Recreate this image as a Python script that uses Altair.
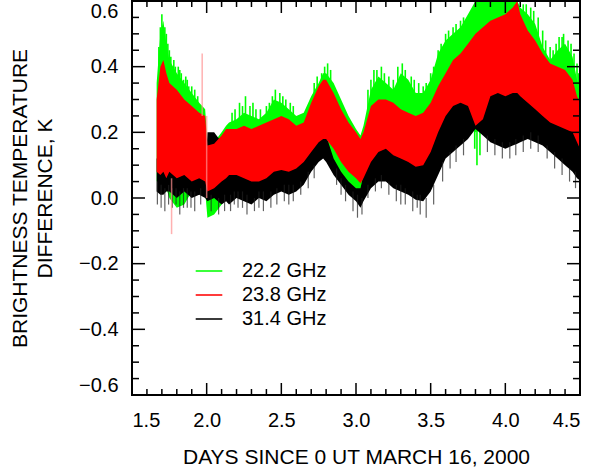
import altair as alt
import pandas as pd

SERIES = ["22.2 GHz", "23.8 GHz", "31.4 GHz"]
COLORS = ["#00ff00", "#ff0000", "#000000"]

# days since 0 UT March 16, 2000 (shared sample positions)
X = [1.665, 1.69, 1.71, 1.73, 1.75, 1.80, 1.85, 1.90, 1.95, 1.99,
     2.005, 2.05, 2.10, 2.13, 2.15, 2.20, 2.25, 2.30, 2.35, 2.40,
     2.45, 2.50, 2.55, 2.60, 2.65, 2.70, 2.75, 2.78, 2.80, 2.85,
     2.90, 2.95, 3.00, 3.03, 3.05, 3.10, 3.15, 3.20, 3.25, 3.30,
     3.35, 3.40, 3.45, 3.50, 3.55, 3.60, 3.65, 3.70, 3.75, 3.80,
     3.85, 3.90, 3.95, 4.00, 4.05, 4.08, 4.10, 4.15, 4.20, 4.25,
     4.30, 4.35, 4.40, 4.45, 4.48, 4.51]

# 22.2 GHz band: upper / lower envelope (K)
G_HI = [0.35, 0.50, 0.54, 0.47, 0.42, 0.38, 0.35, 0.32, 0.29, 0.27,
        0.17, 0.17, 0.20, 0.22, 0.23, 0.24, 0.26, 0.25, 0.24, 0.26,
        0.30, 0.29, 0.27, 0.25, 0.26, 0.31, 0.35, 0.38, 0.38, 0.35,
        0.30, 0.25, 0.21, 0.19, 0.22, 0.33, 0.37, 0.35, 0.33, 0.38,
        0.36, 0.32, 0.32, 0.36, 0.44, 0.48, 0.50, 0.52, 0.56, 0.60,
        0.60, 0.60, 0.60, 0.60, 0.60, 0.60, 0.58, 0.56, 0.53, 0.46,
        0.42, 0.45, 0.47, 0.43, 0.36, 0.30]
G_LO = [0.05, 0.06, 0.05, 0.03, 0.00, -0.03, -0.02, 0.02, 0.03, 0.02,
        -0.06, -0.05, -0.02, 0.00, 0.02, 0.02, 0.01, 0.00, 0.01, 0.02,
        0.03, 0.04, 0.04, 0.05, 0.07, 0.10, 0.13, 0.13, 0.13, 0.10,
        0.06, 0.03, 0.00, -0.02, 0.00, 0.05, 0.08, 0.08, 0.07, 0.06,
        0.05, 0.04, 0.05, 0.08, 0.12, 0.17, 0.20, 0.22, 0.22, 0.20,
        0.21, 0.22, 0.24, 0.24, 0.25, 0.26, 0.26, 0.25, 0.23, 0.20,
        0.18, 0.17, 0.16, 0.15, 0.14, 0.12]

# 23.8 GHz band
R_HI = [0.30, 0.40, 0.42, 0.38, 0.35, 0.33, 0.30, 0.28, 0.26, 0.25,
        0.16, 0.165, 0.19, 0.21, 0.21, 0.21, 0.22, 0.21, 0.22, 0.23,
        0.24, 0.25, 0.24, 0.22, 0.23, 0.29, 0.34, 0.36, 0.36, 0.32,
        0.27, 0.23, 0.20, 0.18, 0.20, 0.28, 0.30, 0.30, 0.29, 0.27,
        0.26, 0.25, 0.26, 0.29, 0.34, 0.38, 0.42, 0.44, 0.47, 0.50,
        0.52, 0.54, 0.55, 0.56, 0.58, 0.60, 0.56, 0.51, 0.48, 0.44,
        0.41, 0.40, 0.39, 0.36, 0.31, 0.28]
R_LO = [0.08, 0.07, 0.08, 0.06, 0.08, 0.06, 0.07, 0.05, 0.06, 0.05,
        0.02, 0.03, 0.05, 0.06, 0.07, 0.07, 0.06, 0.05, 0.05, 0.06,
        0.08, 0.085, 0.08, 0.09, 0.11, 0.14, 0.17, 0.18, 0.18, 0.15,
        0.11, 0.08, 0.06, 0.045, 0.06, 0.11, 0.14, 0.15, 0.13, 0.12,
        0.11, 0.095, 0.10, 0.14, 0.20, 0.25, 0.28, 0.29, 0.28, 0.22,
        0.24, 0.31, 0.32, 0.31, 0.32, 0.32, 0.31, 0.29, 0.27, 0.25,
        0.23, 0.22, 0.21, 0.20, 0.17, 0.14]

# 31.4 GHz band
B_HI = [0.12, 0.12, 0.12, 0.11, 0.11, 0.10, 0.10, 0.09, 0.08, 0.07,
        0.20, 0.20, 0.17, 0.10, 0.09, 0.10, 0.09, 0.08, 0.08, 0.09,
        0.10, 0.11, 0.10, 0.11, 0.13, 0.16, 0.19, 0.20, 0.19, 0.12,
        0.08, 0.05, 0.03, 0.03, 0.07, 0.13, 0.16, 0.17, 0.15, 0.14,
        0.13, 0.12, 0.12, 0.16, 0.22, 0.27, 0.30, 0.31, 0.30, 0.29,
        0.28, 0.33, 0.34, 0.33, 0.34, 0.34, 0.34, 0.33, 0.30, 0.27,
        0.25, 0.24, 0.23, 0.22, 0.19, 0.16]
B_LO = [0.02, 0.01, 0.01, 0.02, 0.02, 0.00, 0.02, 0.00, 0.01, 0.00,
        -0.01, 0.00, -0.02, -0.01, -0.02, 0.00, -0.01, -0.02, 0.00, -0.01,
        0.01, 0.02, 0.01, 0.02, 0.04, 0.08, 0.11, 0.12, 0.11, 0.07,
        0.04, 0.01, -0.01, -0.03, -0.01, 0.03, 0.05, 0.05, 0.03, 0.02,
        0.01, -0.005, -0.01, 0.02, 0.07, 0.12, 0.14, 0.16, 0.18, 0.21,
        0.19, 0.17, 0.16, 0.15, 0.16, 0.165, 0.17, 0.18, 0.17, 0.16,
        0.14, 0.12, 0.10, 0.08, 0.06, 0.05]

# noise spikes read along the 22.2 GHz edges: x, top, bottom
G_SPK_X = [1.68, 1.69, 1.70, 1.72, 1.73, 1.74, 1.75, 1.76, 1.78, 1.79,
           1.81, 1.82, 1.83, 1.845, 1.86, 1.87, 1.88, 1.90, 1.92, 1.94,
           2.17, 2.19, 2.22, 2.24, 2.26, 2.29, 2.31, 2.33, 2.36, 2.40,
           2.42, 2.44, 2.46, 2.49, 2.51, 2.53, 2.56, 2.58, 2.72, 2.74,
           2.77, 2.79, 2.81, 2.83, 3.08, 3.10, 3.12, 3.14, 3.17, 3.19,
           3.22, 3.25, 3.28, 3.31, 3.33, 3.37, 3.39, 3.42, 3.45, 3.47,
           3.50, 3.52, 3.55, 3.57, 3.60, 3.62, 3.65, 3.67, 3.70, 3.72,
           4.12, 4.14, 4.17, 4.19, 4.22, 4.25, 4.27, 4.30, 4.32, 4.34,
           4.36, 4.38, 4.39, 4.42, 4.44, 4.46, 4.48, 4.49, 3.795, 3.81,
           3.83]
G_SPK_T = [0.46, 0.52, 0.56, 0.52, 0.50, 0.47, 0.45, 0.43, 0.42, 0.40,
           0.40, 0.39, 0.38, 0.36, 0.37, 0.36, 0.34, 0.34, 0.33, 0.31,
           0.26, 0.27, 0.29, 0.28, 0.31, 0.28, 0.29, 0.27, 0.27, 0.28,
           0.29, 0.31, 0.33, 0.32, 0.31, 0.30, 0.29, 0.28, 0.35, 0.37,
           0.38, 0.40, 0.41, 0.39, 0.33, 0.36, 0.39, 0.39, 0.40, 0.38,
           0.37, 0.36, 0.40, 0.41, 0.39, 0.37, 0.36, 0.35, 0.34, 0.35,
           0.38, 0.40, 0.45, 0.47, 0.50, 0.51, 0.52, 0.53, 0.54, 0.55,
           0.59, 0.59, 0.58, 0.57, 0.55, 0.51, 0.48, 0.46, 0.45, 0.47,
           0.49, 0.49, 0.50, 0.48, 0.47, 0.44, 0.41, 0.38, 0.22, 0.22,
           0.22]
G_SPK_B = [0.38, 0.44, 0.45, 0.44, 0.43, 0.40, 0.38, 0.36, 0.36, 0.35,
           0.34, 0.33, 0.32, 0.31, 0.32, 0.31, 0.29, 0.29, 0.28, 0.27,
           0.21, 0.22, 0.22, 0.23, 0.24, 0.22, 0.23, 0.22, 0.22, 0.23,
           0.24, 0.26, 0.27, 0.26, 0.26, 0.25, 0.24, 0.23, 0.30, 0.32,
           0.33, 0.35, 0.36, 0.34, 0.27, 0.29, 0.31, 0.32, 0.33, 0.32,
           0.31, 0.30, 0.33, 0.35, 0.33, 0.31, 0.30, 0.30, 0.29, 0.30,
           0.32, 0.34, 0.38, 0.41, 0.43, 0.45, 0.46, 0.47, 0.48, 0.50,
           0.54, 0.53, 0.52, 0.51, 0.49, 0.45, 0.42, 0.40, 0.40, 0.41,
           0.42, 0.43, 0.44, 0.42, 0.40, 0.37, 0.34, 0.32, 0.15, 0.10,
           0.13]

# noise spikes read along the 31.4 GHz lower edge: x, top, bottom
B_SPK_X = [1.67, 1.695, 1.72, 1.745, 1.77, 1.795, 1.82, 1.845, 1.87, 1.895,
           1.92, 1.96, 2.03, 2.08, 2.12, 2.16, 2.185, 2.21, 2.24, 2.27,
           2.32, 2.35, 2.38, 2.43, 2.47, 2.52, 2.55, 2.58, 2.63, 2.68,
           2.72, 2.87, 2.90, 2.93, 2.98, 3.01, 3.04, 3.08, 3.13, 3.17,
           3.22, 3.27, 3.30, 3.33, 3.38, 3.41, 3.43, 3.47, 3.52, 3.58,
           3.63, 3.67, 3.72, 3.88, 3.93, 3.98, 4.03, 4.07, 4.12, 4.17,
           4.22, 4.28, 4.33, 4.38, 4.43, 4.47, 4.50]
B_SPK_T = [0.05, 0.04, 0.03, 0.04, 0.03, 0.03, 0.02, 0.03, 0.03, 0.02,
           0.02, 0.03, 0.01, 0.00, 0.01, 0.01, 0.02, 0.02, 0.02, 0.01,
           0.00, 0.02, 0.02, 0.02, 0.03, 0.04, 0.04, 0.04, 0.05, 0.08,
           0.10, 0.09, 0.06, 0.04, 0.02, 0.01, 0.00, 0.04, 0.06, 0.07,
           0.05, 0.04, 0.04, 0.03, 0.02, 0.01, 0.01, 0.00, 0.04, 0.11,
           0.14, 0.16, 0.18, 0.19, 0.18, 0.17, 0.17, 0.18, 0.19, 0.20,
           0.19, 0.16, 0.14, 0.12, 0.09, 0.08, 0.07]
B_SPK_B = [-0.02, -0.03, -0.04, -0.02, -0.03, -0.02, -0.05, -0.03, -0.03, -0.03,
           -0.04, -0.02, -0.04, -0.05, -0.04, -0.04, -0.02, -0.03, -0.03, -0.05,
           -0.04, -0.03, -0.04, -0.03, -0.02, -0.01, -0.02, -0.01, 0.01, 0.03,
           0.06, 0.04, 0.01, -0.01, -0.04, -0.06, -0.05, 0.00, 0.02, 0.03,
           0.01, -0.01, -0.02, -0.02, -0.04, -0.03, -0.05, -0.06, -0.02, 0.05,
           0.09, 0.11, 0.13, 0.14, 0.13, 0.12, 0.12, 0.13, 0.14, 0.15,
           0.14, 0.12, 0.09, 0.07, 0.05, 0.03, 0.03]

# faint 23.8 GHz outliers
R_SPK_X = [1.765, 1.97, 2.00]
R_SPK_T = [0.06, 0.44, 0.25]
R_SPK_B = [-0.11, 0.25, 0.00]

X_MAJOR = [1.5, 2.0, 2.5, 3.0, 3.5, 4.0, 4.5]
X_MINOR = [1.6, 1.7, 1.8, 1.9, 2.1, 2.2, 2.3, 2.4, 2.6, 2.7, 2.8, 2.9,
           3.1, 3.2, 3.3, 3.4, 3.6, 3.7, 3.8, 3.9, 4.1, 4.2, 4.3, 4.4]
Y_MAJOR = [-0.6, -0.4, -0.2, 0.0, 0.2, 0.4, 0.6]
Y_MINOR = [-0.55, -0.5, -0.45, -0.35, -0.3, -0.25, -0.15, -0.1, -0.05,
           0.05, 0.1, 0.15, 0.25, 0.3, 0.35, 0.45, 0.5, 0.55]

W, H = 448, 394
FONT = "Liberation Sans"

xscale = alt.Scale(domain=[1.5, 4.5], nice=False, zero=False)
yscale = alt.Scale(domain=[-0.6, 0.6], nice=False, zero=False)

XAXIS = alt.Axis(values=X_MAJOR, format=".1f", ticks=False, domain=False,
                 grid=False, labelFlush=True, labelFontSize=20,
                 labelFont=FONT, labelPadding=15, labelColor="black",
                 title="DAYS SINCE 0 UT MARCH 16, 2000",
                 titleFontSize=21, titleFont=FONT, titleFontWeight="normal",
                 titleColor="black", titleY=51, titleBaseline="top")
YAXIS = alt.Axis(values=Y_MAJOR, format=".1f", ticks=False, domain=False,
                 grid=False, labelFlush=True, labelFontSize=20,
                 labelFont=FONT, labelPadding=14, labelColor="black",
                 title=["BRIGHTNESS TEMPERATURE", "DIFFERENCE, K"],
                 titleFontSize=21, titleFont=FONT, titleFontWeight="normal",
                 titleColor="black", titleAngle=270, titleBaseline="bottom",
                 titleAlign="center", titleLineHeight=25,
                 titleX=-102, titleY=197)

color = alt.Color(
    "series:N",
    scale=alt.Scale(domain=SERIES, range=COLORS),
    legend=alt.Legend(
        title=None, orient="none", legendX=63, legendY=256,
        symbolType="M-0.95,-0.055H0.95V0.055H-0.95Z", symbolSize=784,
        symbolOpacity=1, symbolStrokeWidth=0,
        labelFontSize=20, labelFont=FONT, labelOffset=19,
        rowPadding=0, padding=0, labelColor="black",
    ),
)


def band(name, lo, hi):
    df = pd.DataFrame({"x": X, "lo": lo, "hi": hi, "series": name})
    return alt.Chart(df).mark_area(opacity=1, clip=True, interpolate="linear").encode(
        x=alt.X("x:Q", scale=xscale, axis=XAXIS),
        y=alt.Y("hi:Q", scale=yscale, axis=YAXIS),
        y2="lo:Q",
        color=color,
    )


def spikes(xs, tops, bots, col, op=1.0, sw=1.5):
    df = pd.DataFrame({"x": xs, "hi": tops, "lo": bots})
    return alt.Chart(df).mark_rule(color=col, strokeWidth=sw, opacity=op, clip=True).encode(
        x=alt.X("x:Q", scale=xscale, axis=XAXIS),
        y=alt.Y("hi:Q", scale=yscale, axis=YAXIS),
        y2="lo:Q",
    )


def ticks(values, orient, length):
    df = pd.DataFrame({"x": values, "hi": values})
    base = alt.Chart(df).mark_rule(color="black", strokeWidth=1.5)
    if orient == "left":
        return base.encode(y=alt.Y("hi:Q", scale=yscale, axis=YAXIS), x=alt.value(0), x2=alt.value(length))
    if orient == "right":
        return base.encode(y=alt.Y("hi:Q", scale=yscale, axis=YAXIS), x=alt.value(W), x2=alt.value(W - length))
    if orient == "bottom":
        return base.encode(x=alt.X("x:Q", scale=xscale, axis=XAXIS), y=alt.value(H), y2=alt.value(H - length))
    return base.encode(x=alt.X("x:Q", scale=xscale, axis=XAXIS), y=alt.value(0), y2=alt.value(length))


layers = [
    band(SERIES[0], G_LO, G_HI),
    spikes(G_SPK_X, G_SPK_T, G_SPK_B, "#00ff00", 1.0, 1.6),
    band(SERIES[2], B_LO, B_HI),
    spikes(B_SPK_X, B_SPK_T, B_SPK_B, "#202020", 0.7, 1.2),
    band(SERIES[1], R_LO, R_HI),
    spikes(R_SPK_X, R_SPK_T, R_SPK_B, "#ff9090", 0.7, 1.5),
]
for side in ["left", "right"]:
    layers.append(ticks(Y_MAJOR, side, 13))
    layers.append(ticks(Y_MINOR, side, 7))
for side in ["bottom", "top"]:
    layers.append(ticks(X_MAJOR, side, 12))
    layers.append(ticks(X_MINOR, side, 6))

frame = alt.Chart(pd.DataFrame({"v": [0]})).mark_rect(
    filled=False, stroke="black", strokeWidth=2
).encode(x=alt.value(0), x2=alt.value(W), y=alt.value(0), y2=alt.value(H))
layers.append(frame)

chart = alt.layer(*layers).properties(
    width=W, height=H,
    autosize=alt.AutoSizeParams(type="none"),
    padding={"left": 132, "top": 1, "right": 17, "bottom": 78},
).configure_view(stroke=None).configure(font=FONT, background="white")

chart.save("out.html", embed_options={"renderer": "svg", "actions": False})
